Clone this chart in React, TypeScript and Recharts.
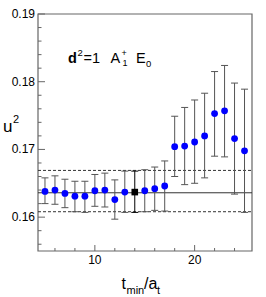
import React from 'react';
import { ComposedChart, Scatter, XAxis, YAxis, ErrorBar, ReferenceLine, ReferenceArea } from 'recharts';

const tValues = [5, 6, 7, 8, 9, 10, 11, 12, 13, 14, 15, 16, 17, 18, 19, 20, 21, 22, 23, 24, 25];
const u2Values = [0.1638, 0.1640, 0.1635, 0.1631, 0.1631, 0.1639, 0.1640, 0.1626, 0.1637, 0.1637, 0.1639, 0.1642, 0.1646, 0.1704, 0.1705, 0.1711, 0.1720, 0.1753, 0.1757, 0.1716, 0.1698];
const errUp = [0.0020, 0.0021, 0.0021, 0.0022, 0.0022, 0.0024, 0.0025, 0.0029, 0.0031, 0.0031, 0.0031, 0.0032, 0.0037, 0.0045, 0.0057, 0.0062, 0.0063, 0.0062, 0.0067, 0.0082, 0.0091];
const errDown = [0.0018, 0.0021, 0.0021, 0.0023, 0.0024, 0.0023, 0.0025, 0.0029, 0.0030, 0.0030, 0.0031, 0.0032, 0.0037, 0.0044, 0.0057, 0.0061, 0.0062, 0.0063, 0.0068, 0.0082, 0.0091];
const chosenT = 14;
const fitCentral = 0.1636;
const fitUpper = 0.1669;
const fitLower = 0.1608;
const xTicks = [6, 8, 10, 12, 14, 16, 18, 20, 22, 24];
const xMajorTicks = [10, 20];
const yTicks = [0.156, 0.158, 0.16, 0.162, 0.164, 0.166, 0.168, 0.17, 0.172, 0.174, 0.176, 0.178, 0.18, 0.182, 0.184, 0.186, 0.188, 0.19];
const yMajorTicks = [0.16, 0.17, 0.18, 0.19];
const xDomain = [4.3, 25.75];
const yDomain = [0.155, 0.19];

const rows = tValues.map((t, i) => ({ t, u2: u2Values[i], err: [errDown[i], errUp[i]] }));
const blueRows = rows.filter((r) => r.t !== chosenT);
const chosenRows = rows.filter((r) => r.t === chosenT);

const FONT = '"Liberation Sans", Arial, Helvetica, sans-serif';
const AXIS = '#666';

const isMajor = (list: number[], v: number) => list.some((m) => Math.abs(m - v) < 1e-9);

const XTick = (props: any) => {
  const { x, y, payload } = props;
  const major = isMajor(xMajorTicks, payload.value);
  return (
    <g>
      <line x1={x} x2={x} y1={y} y2={y - (major ? 6 : 3)} stroke={AXIS} strokeWidth={1} />
      {major && (
        <text x={x} y={y + 13} textAnchor="middle" fontFamily={FONT} fontSize={12} fill="#000">
          {payload.value}
        </text>
      )}
    </g>
  );
};

const YTick = (props: any) => {
  const { x, y, payload } = props;
  const major = isMajor(yMajorTicks, payload.value);
  return (
    <g>
      <line x1={x} x2={x + (major ? 7 : 3.5)} y1={y} y2={y} stroke={AXIS} strokeWidth={1} />
      {major && (
        <text x={x - 3} y={y + 4} textAnchor="end" fontFamily={FONT} fontSize={12} fill="#000">
          {payload.value.toFixed(2)}
        </text>
      )}
    </g>
  );
};

const BlueDot = (props: any) => <circle cx={props.cx} cy={props.cy} r={3.4} fill="#0000ff" />;
const BlackSquare = (props: any) => (
  <rect x={props.cx - 3.3} y={props.cy - 3.3} width={6.6} height={6.6} fill="#000" />
);

export default function App() {
  return (
    <div style={{ position: 'absolute', left: 0, top: 0, width: 266, height: 297, background: '#fff' }}>
      <ComposedChart width={266} height={297} margin={{ top: 14, right: 14, bottom: 0, left: 0 }}>
        <XAxis
          dataKey="t"
          type="number"
          domain={xDomain}
          ticks={xTicks}
          allowDataOverflow
          height={46}
          tickSize={0}
          tickMargin={0}
          tickLine={false}
          axisLine={false}
          tick={<XTick />}
          interval={0}
        />
        <YAxis
          dataKey="u2"
          type="number"
          domain={yDomain}
          ticks={yTicks}
          allowDataOverflow
          width={38}
          tickSize={0}
          tickMargin={0}
          tickLine={false}
          axisLine={false}
          tick={<YTick />}
          interval={0}
        />
        <ReferenceLine y={fitCentral} stroke="#333" strokeWidth={1} />
        <ReferenceLine y={fitUpper} stroke="#333" strokeWidth={1} strokeDasharray="3 2" />
        <ReferenceLine y={fitLower} stroke="#333" strokeWidth={1} strokeDasharray="3 2" />
        <Scatter data={blueRows} dataKey="u2" shape={<BlueDot />} isAnimationActive={false}>
          <ErrorBar dataKey="err" direction="y" width={3.5} stroke="#555" strokeWidth={1} isAnimationActive={false} />
        </Scatter>
        <Scatter data={chosenRows} dataKey="u2" shape={<BlackSquare />} isAnimationActive={false}>
          <ErrorBar dataKey="err" direction="y" width={3.5} stroke="#000" strokeWidth={1} isAnimationActive={false} />
        </Scatter>
        <ReferenceArea
          x1={xDomain[0]}
          x2={xDomain[1]}
          y1={yDomain[0]}
          y2={yDomain[1]}
          fill="none"
          fillOpacity={0}
          stroke={AXIS}
          strokeWidth={1.2}
        />
      </ComposedChart>
      <svg
        width={266}
        height={297}
        style={{ position: 'absolute', left: 0, top: 0, pointerEvents: 'none' }}
      >
        <g fontFamily={FONT} fill="#000">
          <text x={68} y={63} fontSize={14.5} fontWeight="bold">d</text>
          <text x={77.5} y={56} fontSize={9.5}>2</text>
          <text x={83.5} y={63} fontSize={14.5}>=1</text>
          <text x={110.5} y={63} fontSize={14.5}>A</text>
          <text x={121.5} y={56} fontSize={9}>+</text>
          <text x={122.5} y={66} fontSize={9}>1</text>
          <text x={136} y={63} fontSize={14.5}>E</text>
          <text x={146} y={67} fontSize={9.5}>0</text>

          <text x={3} y={131.5} fontSize={17}>u</text>
          <text x={13} y={122.5} fontSize={11}>2</text>

          <text x={121.5} y={289} fontSize={16}>t</text>
          <text x={126.5} y={294} fontSize={11}>min</text>
          <text x={144} y={289} fontSize={16}>/a</text>
          <text x={157} y={294} fontSize={11}>t</text>
        </g>
      </svg>
    </div>
  );
}
